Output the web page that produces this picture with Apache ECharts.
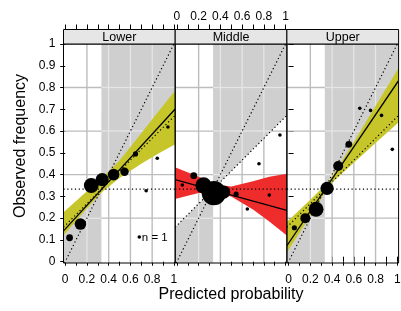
<!DOCTYPE html>
<html><head><meta charset="utf-8">
<script src="https://cdn.jsdelivr.net/npm/echarts@6/dist/echarts.min.js"></script>
<style>html,body{margin:0;padding:0;background:#fff}#c{width:401px;height:311px}</style>
</head><body><div id="c"></div>
<script>
// ---------------- data ----------------
const panelNames = ['Lower', 'Middle', 'Upper'];
const climatology = [0.333, 0.333, 0.333];
const xTickLabels = ['0', '0.2', '0.4', '0.6', '0.8', '1'];
const yTickLabels = ['0', '0.1', '0.2', '0.3', '0.4', '0.5', '0.6', '0.7', '0.8', '0.9', '1'];
const gridValues = [0.2, 0.4, 0.6, 0.8];

// binned points: predicted, observed, n
const lowerX = [0.04, 0.14, 0.24, 0.34, 0.445, 0.546, 0.647, 0.745, 0.847, 0.945];
const lowerY = [0.11, 0.173, 0.35, 0.377, 0.40, 0.413, 0.495, 0.326, 0.475, 0.619];
const lowerN = [3, 6, 8, 7, 6, 4, 2, 1, 1, 1];

const middleX = [0.05, 0.155, 0.245, 0.34, 0.43, 0.545, 0.648, 0.755, 0.85, 0.948];
const middleY = [0.352, 0.395, 0.35, 0.315, 0.32, 0.31, 0.242, 0.45, 0.306, 0.582];
const middleN = [1, 3, 9, 14, 7, 2, 1, 1, 1, 1];

const upperX = [0.053, 0.154, 0.253, 0.354, 0.456, 0.554, 0.655, 0.754, 0.855, 0.954];
const upperY = [0.156, 0.20, 0.241, 0.337, 0.44, 0.539, 0.705, 0.695, 0.672, 0.516];
const upperN = [2, 5, 8, 7, 5, 3, 1, 1, 1, 1];

// fitted lines (intercept, slope)
const fitIntercept = [0.15, 0.375, 0.085];
const fitSlope = [0.545, -0.138, 0.738];

// confidence bands
const lowerBandX = [0, 0.2, 0.35, 0.5, 0.7, 0.85, 1];
const lowerBandLo = [0.13, 0.245, 0.325, 0.385, 0.45, 0.495, 0.536];
const lowerBandHi = [0.234, 0.324, 0.39, 0.465, 0.59, 0.685, 0.778];

const middleBandX = [0, 0.2, 0.35, 0.5, 0.7, 0.85, 1];
const middleBandLo = [0.29, 0.315, 0.315, 0.30, 0.24, 0.185, 0.125];
const middleBandHi = [0.43, 0.39, 0.355, 0.345, 0.37, 0.39, 0.403];

const upperBandX = [0, 0.2, 0.38, 0.6, 0.8, 1];
const upperBandLo = [0.055, 0.21, 0.355, 0.455, 0.545, 0.635];
const upperBandHi = [0.19, 0.285, 0.375, 0.55, 0.715, 0.88];

// ---------------- layout / style ----------------
const FONT = 'Liberation Sans, Arial, Helvetica, sans-serif';
const panelLeft = [63.5, 175.2, 286.9];
const panelW = 111.7, panelTop = 44, panelBottom = 263;
const PX = 108.7, PY = 217.7, X0OFF = 1.7;
const XL = -X0OFF / PX, XR = 1 + (panelW - X0OFF - PX) / PX;
const YB = -(panelBottom - panelTop - PY) / PY, YT = 1;
const GREY = '#cfcfcf', GRID_DARK = '#bdbdbd', GRID_LIGHT = '#e6e6e6';
const BAND_COLORS = ['#c6c62a', '#ee2c2c', '#c6c62a'];

const panels = [
  {x: lowerX, y: lowerY, n: lowerN, bx: lowerBandX, lo: lowerBandLo, hi: lowerBandHi},
  {x: middleX, y: middleY, n: middleN, bx: middleBandX, lo: middleBandLo, hi: middleBandHi},
  {x: upperX, y: upperY, n: upperN, bx: upperBandX, lo: upperBandLo, hi: upperBandHi}
];

function interp(xs, ys, x) {
  let k = 0;
  while (k < xs.length - 2 && x > xs[k + 1]) k++;
  const t = (x - xs[k]) / (xs[k + 1] - xs[k]);
  return ys[k] + t * (ys[k + 1] - ys[k]);
}
function seg(a, b, color, w) {
  return {type: 'line', shape: {x1: a[0], y1: a[1], x2: b[0], y2: b[1]}, style: {stroke: color, lineWidth: w}};
}

const grids = [], xAxes = [], yAxes = [], series = [];
panelLeft.forEach((l, i) => {
  grids.push({left: l + X0OFF, top: panelTop, width: PX, height: PY, outerBoundsMode: 'none', containLabel: false});
});
const xLabel = v => { const k = Math.round(v * 10); return k % 2 === 0 ? xTickLabels[k / 2] : ''; };
const yLabel = v => yTickLabels[Math.round(v * 10)];
for (let i = 0; i < 3; i++) {
  xAxes.push({gridIndex: i, type: 'value', min: 0, max: 1, interval: 0.1, position: 'bottom', offset: panelBottom - panelTop - PY,
    axisLine: {show: false}, splitLine: {show: false},
    axisTick: {show: true, length: 4, lineStyle: {color: '#000', width: 1}},
    axisLabel: {show: i !== 1, showMinLabel: true, showMaxLabel: true, fontSize: 12, color: '#000', fontFamily: FONT, margin: 11, formatter: xLabel}});
}
for (let i = 0; i < 3; i++) {
  xAxes.push({gridIndex: i, type: 'value', min: 0, max: 1, interval: 0.1, position: 'top', offset: 14.5,
    axisLine: {show: false}, splitLine: {show: false},
    axisTick: {show: true, length: 5, lineStyle: {color: '#000', width: 1}},
    axisLabel: {show: i === 1, showMinLabel: true, showMaxLabel: true, fontSize: 12, color: '#000', fontFamily: FONT, margin: 7, formatter: xLabel}});
}
for (let i = 0; i < 3; i++) {
  yAxes.push({gridIndex: i, type: 'value', min: 0, max: 1, interval: 0.1, position: 'left', offset: X0OFF,
    axisLine: {show: false}, splitLine: {show: false},
    axisTick: {show: i === 0, length: 5, lineStyle: {color: '#000', width: 1}},
    axisLabel: {show: i === 0, showMinLabel: true, showMaxLabel: true, fontSize: 12, color: '#000', fontFamily: FONT, margin: 8, formatter: yLabel}});
}
yAxes.push({gridIndex: 2, type: 'value', min: 0, max: 1, interval: 0.1, position: 'right', offset: panelW - X0OFF - PX,
  axisLine: {show: false}, splitLine: {show: false},
  axisTick: {show: true, length: 5, lineStyle: {color: '#000', width: 1}}, axisLabel: {show: false}});

panels.forEach((p, i) => {
  const c = climatology[i];
  const base = {xAxisIndex: i, yAxisIndex: i, silent: true, animation: false};
  // shaded skill region + grid
  series.push(Object.assign({}, base, {type: 'custom', z: 1, data: [[0.5, 0.5]],
    renderItem: (params, api) => {
      const P = (x, y) => api.coord([x, y]);
      const ch = [];
      ch.push({type: 'polygon', shape: {points: [P(c, c), P(XR, (XR + c) / 2), P(XR, YT), P(c, YT)]}, style: {fill: GREY}});
      ch.push({type: 'polygon', shape: {points: [P(c, c), P(XL, (XL + c) / 2), P(XL, YB), P(c, YB)]}, style: {fill: GREY}});
      gridValues.forEach(v => {
        ch.push(seg(P(v, YB), P(v, YT), GRID_DARK, 1.4));
        ch.push(seg(P(XL, v), P(XR, v), GRID_DARK, 1.4));
      });
      gridValues.forEach(v => {
        if (v > c) ch.push(seg(P(v, (v + c) / 2), P(v, YT), GRID_LIGHT, 1.5));
        else ch.push(seg(P(v, YB), P(v, (v + c) / 2), GRID_LIGHT, 1.5));
        const xb = Math.max(XL, Math.min(XR, 2 * v - c));
        if (v > c) ch.push(seg(P(c, v), P(xb, v), GRID_LIGHT, 1.5));
        else ch.push(seg(P(xb, v), P(c, v), GRID_LIGHT, 1.5));
      });
      return {type: 'group', children: ch};
    }}));
  // confidence band
  series.push(Object.assign({}, base, {type: 'custom', z: 2, data: [[0.5, 0.5]],
    renderItem: (params, api) => {
      const pts = [];
      pts.push(api.coord([XL, interp(p.bx, p.hi, XL)]));
      p.bx.forEach((x, k) => pts.push(api.coord([x, p.hi[k]])));
      pts.push(api.coord([XR, interp(p.bx, p.hi, XR)]));
      pts.push(api.coord([XR, interp(p.bx, p.lo, XR)]));
      for (let k = p.bx.length - 1; k >= 0; k--) pts.push(api.coord([p.bx[k], p.lo[k]]));
      pts.push(api.coord([XL, interp(p.bx, p.lo, XL)]));
      return {type: 'polygon', shape: {points: pts}, style: {fill: BAND_COLORS[i]}};
    }}));
  // reference dotted lines
  series.push(Object.assign({}, base, {type: 'custom', z: 3, data: [[0.5, 0.5]],
    renderItem: (params, api) => {
      const P = (x, y) => api.coord([x, y]);
      const st = {stroke: '#000', lineWidth: 1.2, lineDash: [1.2, 2.6], fill: null};
      const d0 = Math.max(XL, YB);
      return {type: 'group', children: [
        {type: 'line', shape: {x1: P(d0, d0)[0], y1: P(d0, d0)[1], x2: P(1, 1)[0], y2: P(1, 1)[1]}, style: st},
        {type: 'line', shape: {x1: P(XL, (XL + c) / 2)[0], y1: P(XL, (XL + c) / 2)[1], x2: P(XR, (XR + c) / 2)[0], y2: P(XR, (XR + c) / 2)[1]}, style: st},
        {type: 'line', shape: {x1: P(XL, c)[0], y1: P(XL, c)[1], x2: P(XR, c)[0], y2: P(XR, c)[1]}, style: st}
      ]};
    }}));
  // fitted line
  const a = fitIntercept[i], b = fitSlope[i];
  series.push(Object.assign({}, base, {type: 'line', z: 4, clip: false, symbol: 'none',
    data: [[XL, a + b * XL], [XR, a + b * XR]], lineStyle: {color: '#000', width: 1.3}}));
  // binned points
  series.push(Object.assign({}, base, {type: 'scatter', z: 5, clip: false,
    data: p.x.map((x, k) => [x, p.y[k], p.n[k]]),
    symbolSize: d => 2 + 1.6 * d[2], itemStyle: {color: '#000', opacity: 1}}));
});

const graphic = [];
panelLeft.forEach((l, i) => {
  graphic.push({type: 'rect', z: 100, silent: true, shape: {x: l, y: panelTop, width: panelW, height: panelBottom - panelTop},
    style: {fill: 'none', stroke: '#000', lineWidth: 1}});
  graphic.push({type: 'rect', z: 100, silent: true, shape: {x: l, y: 29.5, width: panelW, height: panelTop - 29.5},
    style: {fill: '#e6e6e6', stroke: '#000', lineWidth: 1}});
  graphic.push({type: 'text', z: 101, silent: true, x: l + panelW / 2, y: 37.2,
    style: {text: panelNames[i], fontSize: 12.5, fontFamily: FONT, fill: '#000', textAlign: 'center', textVerticalAlign: 'middle'}});
});
graphic.push({type: 'text', z: 101, silent: true, x: 21, y: 146, rotation: Math.PI / 2,
  style: {text: 'Observed frequency', fontSize: 16, fontFamily: FONT, fill: '#000', textAlign: 'center', textVerticalAlign: 'middle'}});
graphic.push({type: 'text', z: 101, silent: true, x: 231, y: 295,
  style: {text: 'Predicted probability', fontSize: 16, fontFamily: FONT, fill: '#000', textAlign: 'center', textVerticalAlign: 'middle'}});
graphic.push({type: 'circle', z: 101, silent: true, shape: {cx: 139.3, cy: 237, r: 1.8}, style: {fill: '#000'}});
graphic.push({type: 'text', z: 101, silent: true, x: 141.8, y: 237.5,
  style: {text: 'n = 1', fontSize: 11.5, fontFamily: FONT, fill: '#000', textAlign: 'left', textVerticalAlign: 'middle'}});

const chart = echarts.init(document.getElementById('c'), null, {renderer: 'canvas'});
chart.setOption({
  animation: false,
  backgroundColor: '#fff',
  textStyle: {fontFamily: FONT},
  grid: grids, xAxis: xAxes, yAxis: yAxes, series: series, graphic: graphic
});
</script></body></html>
